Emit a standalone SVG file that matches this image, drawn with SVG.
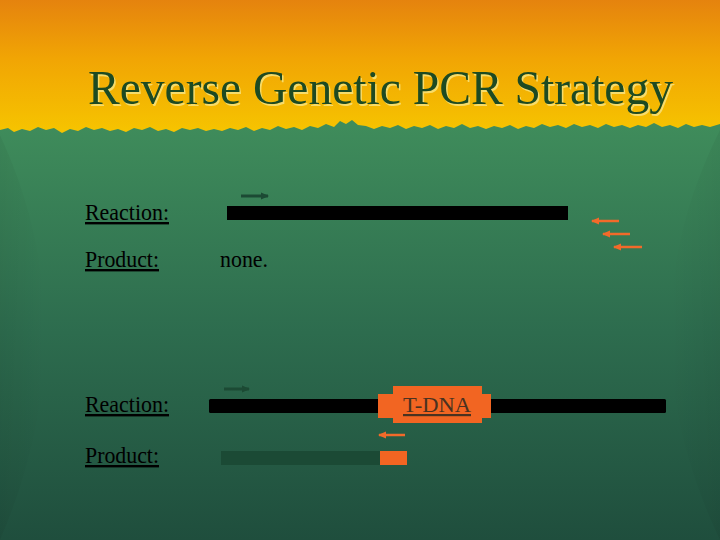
<svg xmlns="http://www.w3.org/2000/svg" width="720" height="540" viewBox="0 0 720 540">
<defs>
<linearGradient id="gTop" gradientUnits="userSpaceOnUse" x1="0" y1="0" x2="0" y2="130">
<stop offset="0" stop-color="#e5830e"/>
<stop offset="0.45" stop-color="#f1a504"/>
<stop offset="1" stop-color="#f6c300"/>
</linearGradient>
<linearGradient id="gGreen" gradientUnits="userSpaceOnUse" x1="0" y1="125" x2="0" y2="540">
<stop offset="0" stop-color="#3f8c5b"/>
<stop offset="0.5" stop-color="#2d6c4e"/>
<stop offset="1" stop-color="#1f4e3d"/>
</linearGradient>
<linearGradient id="gSideL" x1="0" y1="0" x2="1" y2="0">
<stop offset="0" stop-color="#000" stop-opacity="0.05"/>
<stop offset="1" stop-color="#000" stop-opacity="0"/>
</linearGradient>
<linearGradient id="gSideR" x1="1" y1="0" x2="0" y2="0">
<stop offset="0" stop-color="#000" stop-opacity="0.05"/>
<stop offset="1" stop-color="#000" stop-opacity="0"/>
</linearGradient>
<marker id="ahDark" markerUnits="userSpaceOnUse" markerWidth="8" markerHeight="8" refX="7" refY="4" orient="auto">
<path d="M0,0.5 L8,4 L0,7.5 Z" fill="#1c4a34"/>
</marker>
<marker id="ahOrange" markerUnits="userSpaceOnUse" markerWidth="8" markerHeight="8" refX="7" refY="4" orient="auto">
<path d="M0,0.5 L8,4 L0,7.5 Z" fill="#f26a2a"/>
</marker>
</defs>
<style>
.lbl{font-family:"Liberation Serif","Times New Roman",serif;font-size:24px;fill:#000;text-decoration:underline}
.plain{font-family:"Liberation Serif","Times New Roman",serif;font-size:24px;fill:#000}
.bar{fill:#000}
.orange{fill:#f26522}
.fwd{stroke:#1c4a34;stroke-width:3;fill:none;marker-end:url(#ahDark)}
.rev{stroke:#f26a2a;stroke-width:2.5;fill:none;marker-end:url(#ahOrange)}
</style>
<rect width="720" height="540" fill="url(#gTop)"/>
<path d="M0,130 L8,128 L14,132 L22,129 L30,131 L38,127 L46,130 L54,128 L62,133 L70,129 L78,131 L86,127 L94,130 L102,128 L110,131 L118,129 L126,132 L134,128 L142,130 L150,127 L158,131 L166,129 L174,132 L182,128 L190,130 L198,128 L206,131 L214,129 L222,131 L230,128 L238,130 L246,127 L254,131 L262,128 L270,130 L278,126 L286,129 L294,127 L302,130 L310,126 L318,128 L326,124 L334,127 L340,121 L346,124 L352,120 L358,125 L366,126 L374,129 L382,126 L390,128 L398,125 L406,129 L414,126 L422,128 L430,125 L438,129 L446,126 L454,128 L462,124 L470,128 L478,126 L486,129 L494,126 L502,128 L510,125 L518,129 L526,126 L534,128 L542,124 L550,127 L558,125 L566,128 L574,124 L582,127 L590,125 L598,128 L606,124 L614,127 L622,125 L630,128 L638,125 L646,127 L654,123 L662,127 L670,125 L678,128 L686,124 L694,127 L702,125 L710,127 L720,124 L720,540 L0,540 Z" fill="url(#gGreen)"/>
<path d="M0,135 Q90,330 0,540 Z" fill="url(#gSideL)"/>
<path d="M720,130 Q620,330 720,540 Z" fill="url(#gSideR)"/>
<g id="title">
<text x="89.5" y="105.5" font-family="'Liberation Serif','Times New Roman',serif" font-size="49" fill="#f7dc6a" textLength="585" lengthAdjust="spacingAndGlyphs">Reverse Genetic PCR Strategy</text>
<text x="88" y="104" font-family="'Liberation Serif','Times New Roman',serif" font-size="49" fill="#1d4a22" textLength="585" lengthAdjust="spacingAndGlyphs">Reverse Genetic PCR Strategy</text>
</g>
<g id="label-reaction-1"><text class="lbl" x="85" y="220" textLength="84" lengthAdjust="spacingAndGlyphs">Reaction:</text></g>
<g id="label-product-1"><text class="lbl" x="85" y="267" textLength="74" lengthAdjust="spacingAndGlyphs">Product:</text></g>
<g id="label-none"><text class="plain" x="220" y="267" textLength="48" lengthAdjust="spacingAndGlyphs">none.</text></g>
<g id="label-reaction-2"><text class="lbl" x="85" y="412" textLength="84" lengthAdjust="spacingAndGlyphs">Reaction:</text></g>
<g id="label-product-2"><text class="lbl" x="85" y="463" textLength="74" lengthAdjust="spacingAndGlyphs">Product:</text></g>
<g id="gene-1"><rect class="bar" x="227" y="206" width="341" height="14"/></g>
<g id="gene-2"><rect class="bar" x="209" y="399" width="457" height="14" rx="1.5"/></g>
<g id="tdna">
<rect class="orange" x="393" y="386" width="89" height="37"/>
<rect class="orange" x="378" y="394" width="113" height="24"/>
<text x="437" y="412" text-anchor="middle" font-family="'Liberation Serif','Times New Roman',serif" font-size="22" fill="#4a3220" text-decoration="underline" textLength="68" lengthAdjust="spacingAndGlyphs">T-DNA</text>
</g>
<g id="product">
<rect x="221" y="451" width="159" height="14" fill="#1b4a35"/>
<rect class="orange" x="380" y="451" width="27" height="14"/>
</g>
<g id="connectors">
<line class="fwd" x1="241" y1="196" x2="268" y2="196"/>
<line class="rev" x1="619" y1="221" x2="592" y2="221"/>
<line class="rev" x1="630" y1="234" x2="603" y2="234"/>
<line class="rev" x1="642" y1="247" x2="614" y2="247"/>
<line class="fwd" x1="224" y1="389" x2="249" y2="389"/>
<line class="rev" x1="405" y1="435" x2="379" y2="435"/>
</g>
</svg>
